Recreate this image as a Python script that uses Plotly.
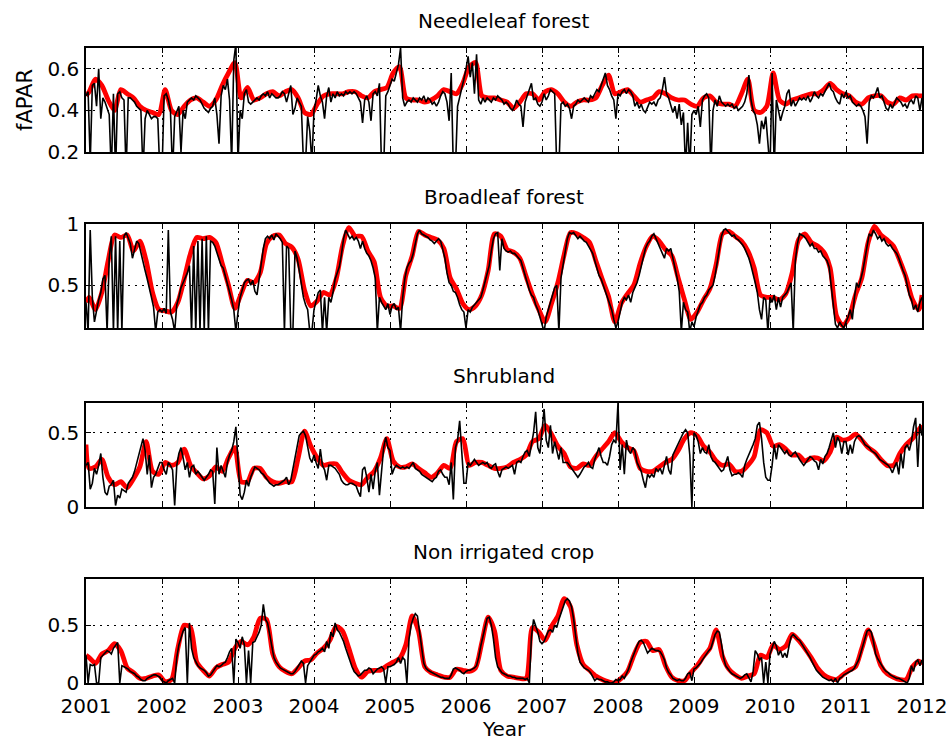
import plotly.graph_objects as go

# ---------------------------------------------------------------------------
# fAPAR time series 2001-2011 for four land-cover classes.
# *_OBS : dekadal observations (36 per year), *_FIT : smoothed monthly curve.
# ---------------------------------------------------------------------------
YEARS = list(range(2001, 2012))
YEAR_TICKS = list(range(2001, 2013))

PANEL_TITLES = ["Needleleaf forest", "Broadleaf forest", "Shrubland", "Non irrigated crop"]
Y_RANGES = [(0.2, 0.7), (0.15, 1.0), (0.0, 0.7), (0.0, 0.9)]
Y_TICKS = [[0.2, 0.4, 0.6], [0.5, 1.0], [0.0, 0.5], [0.0, 0.5]]
Y_TICK_TEXT = [["0.2", "0.4", "0.6"], ["0.5", "1"], ["0", "0.5"], ["0", "0.5"]]

# --- Needleleaf forest -------------------------------------------------------
NEEDLE_OBS = [
    [0.47, 0.49, 0.15, 0.52, 0.53, 0.42, 0.60, 0.36, 0.46, 0.44, 0.41, 0.38, 0.10, 0.48, 0.10, 0.48, 0.49, 0.46,
     0.45, 0.10, 0.46, 0.46, 0.45, 0.44, 0.42, 0.41, 0.40, 0.10, 0.36, 0.40, 0.38, 0.36, 0.37, 0.37, 0.36, 0.10],
    [0.10, 0.47, 0.48, 0.45, 0.40, 0.10, 0.37, 0.40, 0.42, 0.20, 0.40, 0.36, 0.44, 0.45, 0.46, 0.45, 0.47, 0.46,
     0.45, 0.43, 0.41, 0.40, 0.39, 0.41, 0.42, 0.46, 0.38, 0.24, 0.47, 0.52, 0.50, 0.55, 0.45, 0.15, 0.64, 0.72],
    [0.15, 0.40, 0.36, 0.48, 0.50, 0.44, 0.43, 0.44, 0.45, 0.46, 0.45, 0.47, 0.48, 0.47, 0.49, 0.46, 0.48, 0.47,
     0.46, 0.46, 0.47, 0.49, 0.48, 0.44, 0.48, 0.52, 0.38, 0.41, 0.46, 0.44, 0.42, 0.15, 0.15, 0.37, 0.30, 0.15],
    [0.40, 0.45, 0.52, 0.47, 0.44, 0.36, 0.47, 0.51, 0.44, 0.48, 0.46, 0.49, 0.47, 0.48, 0.47, 0.49, 0.48, 0.49,
     0.48, 0.49, 0.48, 0.46, 0.44, 0.34, 0.45, 0.47, 0.44, 0.35, 0.48, 0.49, 0.47, 0.53, 0.12, 0.12, 0.47, 0.49],
    [0.52, 0.55, 0.54, 0.58, 0.62, 0.70, 0.46, 0.42, 0.44, 0.45, 0.44, 0.46, 0.45, 0.44, 0.46, 0.45, 0.47, 0.44,
     0.46, 0.45, 0.43, 0.44, 0.42, 0.44, 0.47, 0.49, 0.48, 0.44, 0.35, 0.58, 0.12, 0.12, 0.42, 0.46, 0.50, 0.55],
    [0.60, 0.66, 0.56, 0.63, 0.48, 0.67, 0.45, 0.43, 0.46, 0.44, 0.46, 0.45, 0.44, 0.46, 0.45, 0.47, 0.46, 0.45,
     0.43, 0.44, 0.43, 0.41, 0.40, 0.42, 0.45, 0.43, 0.42, 0.32, 0.44, 0.47, 0.49, 0.53, 0.45, 0.46, 0.43, 0.42],
    [0.44, 0.48, 0.45, 0.47, 0.50, 0.49, 0.48, 0.12, 0.12, 0.43, 0.44, 0.42, 0.43, 0.41, 0.36, 0.42, 0.43, 0.45,
     0.44, 0.45, 0.46, 0.45, 0.44, 0.47, 0.46, 0.48, 0.50, 0.49, 0.52, 0.54, 0.58, 0.52, 0.50, 0.47, 0.45, 0.36],
    [0.48, 0.47, 0.49, 0.50, 0.48, 0.50, 0.49, 0.47, 0.42, 0.44, 0.41, 0.43, 0.40, 0.39, 0.42, 0.44, 0.43, 0.44,
     0.42, 0.45, 0.46, 0.50, 0.56, 0.48, 0.46, 0.42, 0.39, 0.42, 0.36, 0.43, 0.33, 0.39, 0.12, 0.34, 0.12, 0.38],
    [0.40, 0.38, 0.42, 0.32, 0.45, 0.47, 0.48, 0.46, 0.12, 0.40, 0.45, 0.42, 0.47, 0.44, 0.43, 0.42, 0.43, 0.42,
     0.43, 0.41, 0.42, 0.40, 0.41, 0.42, 0.44, 0.48, 0.57, 0.45, 0.40, 0.38, 0.33, 0.24, 0.35, 0.31, 0.37, 0.22],
    [0.12, 0.58, 0.12, 0.45, 0.40, 0.35, 0.39, 0.42, 0.48, 0.50, 0.42, 0.45, 0.42, 0.44, 0.46, 0.45, 0.46, 0.45,
     0.47, 0.44, 0.46, 0.49, 0.47, 0.46, 0.48, 0.47, 0.49, 0.51, 0.53, 0.50, 0.49, 0.46, 0.44, 0.43, 0.48, 0.46],
    [0.49, 0.46, 0.47, 0.44, 0.43, 0.42, 0.43, 0.42, 0.40, 0.37, 0.24, 0.44, 0.47, 0.46, 0.48, 0.51, 0.46, 0.47,
     0.44, 0.41, 0.40, 0.43, 0.41, 0.44, 0.46, 0.45, 0.44, 0.42, 0.43, 0.41, 0.44, 0.45, 0.43, 0.47, 0.46, 0.40],
]
NEEDLE_OBS_END = 0.46
NEEDLE_FIT = [
    [0.49, 0.55, 0.52, 0.45, 0.40, 0.50, 0.48, 0.46, 0.42, 0.40, 0.39, 0.38],
    [0.50, 0.40, 0.38, 0.42, 0.45, 0.46, 0.44, 0.42, 0.45, 0.52, 0.58, 0.63],
    [0.46, 0.51, 0.45, 0.46, 0.48, 0.49, 0.47, 0.49, 0.50, 0.46, 0.39, 0.38],
    [0.43, 0.47, 0.48, 0.48, 0.48, 0.49, 0.49, 0.47, 0.46, 0.49, 0.50, 0.51],
    [0.58, 0.61, 0.46, 0.45, 0.45, 0.44, 0.45, 0.47, 0.50, 0.49, 0.48, 0.53],
    [0.61, 0.63, 0.47, 0.46, 0.46, 0.45, 0.44, 0.41, 0.44, 0.48, 0.48, 0.45],
    [0.49, 0.50, 0.48, 0.44, 0.42, 0.44, 0.45, 0.45, 0.46, 0.52, 0.57, 0.48],
    [0.49, 0.50, 0.47, 0.44, 0.45, 0.46, 0.49, 0.48, 0.46, 0.45, 0.45, 0.43],
    [0.42, 0.46, 0.47, 0.44, 0.43, 0.43, 0.42, 0.48, 0.55, 0.40, 0.39, 0.42],
    [0.58, 0.45, 0.43, 0.45, 0.46, 0.47, 0.48, 0.48, 0.50, 0.53, 0.50, 0.48],
    [0.47, 0.44, 0.43, 0.46, 0.47, 0.47, 0.44, 0.43, 0.46, 0.45, 0.47, 0.47],
]
NEEDLE_FIT_START, NEEDLE_FIT_END = 0.47, 0.47

# --- Broadleaf forest --------------------------------------------------------
BROAD_OBS = [
    [0.36, 0.12, 0.95, 0.40, 0.20, 0.30, 0.38, 0.44, 0.55, 0.58, 0.12, 0.72, 0.90, 0.12, 0.90, 0.12, 0.86, 0.12,
     0.90, 0.93, 0.88, 0.84, 0.72, 0.80, 0.86, 0.84, 0.76, 0.70, 0.62, 0.55, 0.46, 0.40, 0.32, 0.12, 0.28, 0.30],
    [0.28, 0.31, 0.27, 0.95, 0.28, 0.22, 0.12, 0.34, 0.40, 0.48, 0.52, 0.56, 0.60, 0.66, 0.12, 0.82, 0.12, 0.86,
     0.12, 0.88, 0.12, 0.90, 0.12, 0.86, 0.85, 0.82, 0.76, 0.72, 0.66, 0.64, 0.58, 0.52, 0.45, 0.38, 0.30, 0.12],
    [0.28, 0.40, 0.46, 0.52, 0.54, 0.55, 0.50, 0.54, 0.45, 0.42, 0.55, 0.68, 0.80, 0.88, 0.90, 0.88, 0.91, 0.87,
     0.92, 0.90, 0.88, 0.85, 0.12, 0.82, 0.80, 0.12, 0.12, 0.78, 0.72, 0.62, 0.50, 0.40, 0.34, 0.30, 0.12, 0.12],
    [0.30, 0.36, 0.44, 0.46, 0.12, 0.40, 0.12, 0.40, 0.36, 0.44, 0.55, 0.60, 0.65, 0.75, 0.88, 0.95, 0.92, 0.88,
     0.90, 0.87, 0.89, 0.86, 0.80, 0.86, 0.80, 0.76, 0.74, 0.70, 0.64, 0.56, 0.12, 0.40, 0.36, 0.33, 0.30, 0.35],
    [0.26, 0.33, 0.35, 0.30, 0.32, 0.12, 0.40, 0.55, 0.64, 0.68, 0.70, 0.76, 0.85, 0.92, 0.95, 0.92, 0.91, 0.90,
     0.89, 0.87, 0.86, 0.84, 0.86, 0.88, 0.86, 0.80, 0.72, 0.60, 0.52, 0.50, 0.45, 0.44, 0.40, 0.34, 0.30, 0.28],
    [0.15, 0.30, 0.28, 0.32, 0.34, 0.36, 0.38, 0.40, 0.46, 0.52, 0.58, 0.66, 0.78, 0.88, 0.92, 0.93, 0.62, 0.88,
     0.80, 0.78, 0.77, 0.78, 0.76, 0.76, 0.74, 0.72, 0.70, 0.64, 0.58, 0.50, 0.46, 0.42, 0.40, 0.34, 0.30, 0.24],
    [0.18, 0.12, 0.24, 0.30, 0.36, 0.42, 0.48, 0.50, 0.12, 0.56, 0.68, 0.80, 0.88, 0.93, 0.92, 0.93, 0.90, 0.88,
     0.90, 0.88, 0.86, 0.85, 0.82, 0.80, 0.76, 0.70, 0.64, 0.58, 0.55, 0.50, 0.46, 0.40, 0.36, 0.30, 0.22, 0.15],
    [0.20, 0.28, 0.36, 0.40, 0.38, 0.42, 0.36, 0.44, 0.48, 0.52, 0.58, 0.66, 0.74, 0.80, 0.84, 0.86, 0.90, 0.92,
     0.88, 0.84, 0.80, 0.76, 0.72, 0.80, 0.78, 0.80, 0.72, 0.62, 0.56, 0.45, 0.12, 0.36, 0.30, 0.28, 0.12, 0.20],
    [0.16, 0.24, 0.30, 0.34, 0.36, 0.40, 0.42, 0.46, 0.48, 0.50, 0.58, 0.68, 0.80, 0.90, 0.95, 0.96, 0.94, 0.92,
     0.90, 0.91, 0.88, 0.87, 0.85, 0.83, 0.80, 0.76, 0.72, 0.66, 0.60, 0.52, 0.44, 0.30, 0.22, 0.40, 0.38, 0.12],
    [0.40, 0.36, 0.42, 0.30, 0.40, 0.32, 0.40, 0.42, 0.44, 0.48, 0.52, 0.12, 0.70, 0.84, 0.92, 0.91, 0.90, 0.88,
     0.85, 0.82, 0.84, 0.80, 0.80, 0.77, 0.78, 0.74, 0.72, 0.70, 0.65, 0.50, 0.30, 0.18, 0.15, 0.20, 0.17, 0.15],
    [0.20, 0.24, 0.30, 0.22, 0.40, 0.52, 0.48, 0.55, 0.62, 0.72, 0.84, 0.92, 0.90, 0.95, 0.92, 0.88, 0.90, 0.86,
     0.88, 0.84, 0.82, 0.83, 0.80, 0.78, 0.76, 0.72, 0.66, 0.62, 0.58, 0.50, 0.42, 0.38, 0.30, 0.34, 0.28, 0.36],
]
BROAD_OBS_END = 0.40
BROAD_FIT = [
    [0.40, 0.30, 0.44, 0.70, 0.91, 0.89, 0.91, 0.78, 0.86, 0.70, 0.44, 0.30],
    [0.29, 0.28, 0.36, 0.55, 0.76, 0.89, 0.88, 0.89, 0.85, 0.68, 0.50, 0.31],
    [0.43, 0.54, 0.52, 0.60, 0.84, 0.90, 0.91, 0.84, 0.81, 0.71, 0.46, 0.33],
    [0.37, 0.44, 0.42, 0.55, 0.82, 0.97, 0.90, 0.90, 0.78, 0.69, 0.40, 0.33],
    [0.33, 0.31, 0.58, 0.74, 0.94, 0.91, 0.89, 0.87, 0.80, 0.56, 0.47, 0.35],
    [0.30, 0.33, 0.42, 0.62, 0.92, 0.90, 0.79, 0.77, 0.72, 0.57, 0.42, 0.30],
    [0.20, 0.35, 0.52, 0.75, 0.93, 0.92, 0.89, 0.85, 0.70, 0.55, 0.41, 0.20],
    [0.35, 0.43, 0.50, 0.68, 0.82, 0.90, 0.86, 0.79, 0.74, 0.56, 0.38, 0.22],
    [0.28, 0.38, 0.47, 0.67, 0.92, 0.94, 0.90, 0.86, 0.78, 0.64, 0.42, 0.40],
    [0.40, 0.38, 0.43, 0.60, 0.87, 0.92, 0.85, 0.82, 0.77, 0.64, 0.25, 0.17],
    [0.24, 0.42, 0.56, 0.85, 0.98, 0.91, 0.87, 0.82, 0.70, 0.56, 0.38, 0.30],
]
BROAD_FIT_START, BROAD_FIT_END = 0.36, 0.42

# --- Shrubland ---------------------------------------------------------------
SHRUB_OBS = [
    [0.28, 0.30, 0.12, 0.16, 0.26, 0.22, 0.28, 0.36, 0.20, 0.10, 0.08, 0.14, 0.15, 0.18, 0.01, 0.08, 0.06, 0.12,
     0.11, 0.10, 0.16, 0.18, 0.20, 0.24, 0.30, 0.36, 0.40, 0.46, 0.38, 0.22, 0.35, 0.13, 0.20, 0.22, 0.26, 0.30],
    [0.30, 0.25, 0.22, 0.30, 0.28, 0.25, 0.01, 0.28, 0.36, 0.40, 0.33, 0.25, 0.30, 0.20, 0.27, 0.28, 0.22, 0.24,
     0.22, 0.20, 0.18, 0.20, 0.22, 0.25, 0.24, 0.02, 0.40, 0.22, 0.28, 0.24, 0.20, 0.30, 0.35, 0.38, 0.44, 0.54],
    [0.30, 0.08, 0.05, 0.10, 0.18, 0.14, 0.20, 0.24, 0.27, 0.26, 0.25, 0.23, 0.22, 0.20, 0.18, 0.16, 0.15, 0.14,
     0.15, 0.15, 0.16, 0.17, 0.18, 0.20, 0.15, 0.18, 0.25, 0.32, 0.40, 0.48, 0.50, 0.51, 0.48, 0.40, 0.33, 0.30],
    [0.35, 0.30, 0.26, 0.39, 0.28, 0.25, 0.18, 0.28, 0.28, 0.27, 0.26, 0.24, 0.22, 0.18, 0.16, 0.15, 0.15, 0.16,
     0.16, 0.15, 0.14, 0.10, 0.07, 0.25, 0.27, 0.20, 0.10, 0.22, 0.12, 0.24, 0.30, 0.08, 0.22, 0.40, 0.47, 0.40],
    [0.38, 0.22, 0.26, 0.28, 0.27, 0.26, 0.27, 0.26, 0.27, 0.26, 0.28, 0.30, 0.26, 0.25, 0.24, 0.22, 0.21, 0.20,
     0.19, 0.18, 0.17, 0.19, 0.20, 0.24, 0.25, 0.22, 0.20, 0.20, 0.15, 0.30, 0.05, 0.40, 0.45, 0.58, 0.40, 0.16],
    [0.16, 0.30, 0.28, 0.30, 0.32, 0.30, 0.28, 0.29, 0.30, 0.29, 0.30, 0.27, 0.26, 0.28, 0.29, 0.24, 0.20, 0.25,
     0.26, 0.27, 0.26, 0.27, 0.28, 0.22, 0.30, 0.31, 0.30, 0.34, 0.37, 0.38, 0.34, 0.42, 0.50, 0.64, 0.40, 0.36],
    [0.52, 0.66, 0.45, 0.40, 0.55, 0.36, 0.44, 0.38, 0.32, 0.40, 0.30, 0.30, 0.30, 0.28, 0.26, 0.24, 0.22, 0.20,
     0.22, 0.25, 0.27, 0.28, 0.30, 0.27, 0.26, 0.32, 0.36, 0.40, 0.34, 0.30, 0.30, 0.28, 0.34, 0.42, 0.45, 0.43],
    [0.70, 0.25, 0.42, 0.22, 0.45, 0.38, 0.36, 0.40, 0.38, 0.30, 0.27, 0.24, 0.18, 0.13, 0.22, 0.20, 0.22, 0.20,
     0.26, 0.24, 0.26, 0.22, 0.28, 0.34, 0.25, 0.22, 0.35, 0.38, 0.42, 0.45, 0.48, 0.50, 0.52, 0.50, 0.35, 0.00],
    [0.50, 0.48, 0.44, 0.36, 0.40, 0.37, 0.36, 0.42, 0.34, 0.31, 0.30, 0.28, 0.26, 0.24, 0.25, 0.30, 0.34, 0.25,
     0.21, 0.22, 0.22, 0.23, 0.22, 0.20, 0.28, 0.32, 0.35, 0.38, 0.42, 0.46, 0.55, 0.57, 0.46, 0.30, 0.20, 0.18],
    [0.18, 0.28, 0.42, 0.32, 0.42, 0.40, 0.38, 0.36, 0.38, 0.35, 0.34, 0.36, 0.37, 0.34, 0.32, 0.30, 0.28, 0.30,
     0.32, 0.34, 0.33, 0.31, 0.30, 0.25, 0.32, 0.29, 0.34, 0.36, 0.40, 0.46, 0.50, 0.40, 0.47, 0.44, 0.36, 0.44],
    [0.44, 0.35, 0.42, 0.36, 0.44, 0.47, 0.48, 0.47, 0.44, 0.42, 0.41, 0.40, 0.38, 0.37, 0.36, 0.34, 0.32, 0.31,
     0.30, 0.29, 0.28, 0.26, 0.23, 0.27, 0.30, 0.22, 0.36, 0.26, 0.40, 0.42, 0.38, 0.44, 0.54, 0.60, 0.27, 0.56],
]
SHRUB_OBS_END = 0.48
SHRUB_FIT = [
    [0.26, 0.27, 0.32, 0.20, 0.15, 0.17, 0.13, 0.19, 0.27, 0.44, 0.24, 0.22],
    [0.30, 0.28, 0.30, 0.39, 0.28, 0.23, 0.19, 0.21, 0.27, 0.24, 0.33, 0.40],
    [0.17, 0.17, 0.26, 0.26, 0.20, 0.17, 0.16, 0.17, 0.17, 0.33, 0.51, 0.41],
    [0.33, 0.28, 0.29, 0.29, 0.23, 0.18, 0.16, 0.15, 0.20, 0.24, 0.33, 0.46],
    [0.31, 0.27, 0.27, 0.29, 0.26, 0.23, 0.20, 0.23, 0.28, 0.26, 0.44, 0.46],
    [0.28, 0.30, 0.30, 0.28, 0.26, 0.26, 0.27, 0.30, 0.32, 0.35, 0.44, 0.46],
    [0.55, 0.49, 0.41, 0.36, 0.27, 0.26, 0.29, 0.28, 0.34, 0.39, 0.44, 0.50],
    [0.44, 0.40, 0.38, 0.26, 0.24, 0.24, 0.27, 0.30, 0.32, 0.38, 0.46, 0.50],
    [0.48, 0.41, 0.37, 0.31, 0.28, 0.29, 0.24, 0.24, 0.28, 0.34, 0.52, 0.50],
    [0.41, 0.42, 0.39, 0.35, 0.35, 0.31, 0.33, 0.33, 0.31, 0.37, 0.47, 0.45],
    [0.46, 0.49, 0.45, 0.40, 0.37, 0.32, 0.28, 0.28, 0.36, 0.42, 0.46, 0.52],
]
SHRUB_FIT_START, SHRUB_FIT_END = 0.42, 0.55

# --- Non irrigated crop ------------------------------------------------------
CROP_OBS = [
    [0.24, 0.00, 0.16, 0.15, 0.16, 0.00, 0.00, 0.22, 0.24, 0.26, 0.28, 0.27, 0.25, 0.30, 0.33, 0.35, 0.00, 0.15,
     0.14, 0.13, 0.12, 0.10, 0.09, 0.08, 0.06, 0.05, 0.03, 0.02, 0.02, 0.04, 0.05, 0.06, 0.07, 0.07, 0.06, 0.05],
    [0.02, 0.01, 0.00, 0.02, 0.03, 0.04, 0.00, 0.22, 0.33, 0.40, 0.45, 0.48, 0.00, 0.52, 0.30, 0.22, 0.18, 0.15,
     0.13, 0.12, 0.11, 0.09, 0.06, 0.07, 0.10, 0.13, 0.15, 0.14, 0.15, 0.17, 0.18, 0.22, 0.27, 0.30, 0.00, 0.38],
    [0.35, 0.30, 0.40, 0.33, 0.00, 0.28, 0.00, 0.35, 0.36, 0.40, 0.44, 0.50, 0.68, 0.55, 0.52, 0.42, 0.30, 0.22,
     0.18, 0.15, 0.13, 0.12, 0.11, 0.10, 0.09, 0.08, 0.08, 0.10, 0.13, 0.16, 0.19, 0.17, 0.00, 0.15, 0.18, 0.22],
    [0.24, 0.25, 0.27, 0.28, 0.30, 0.27, 0.36, 0.30, 0.44, 0.40, 0.52, 0.46, 0.44, 0.40, 0.36, 0.30, 0.24, 0.18,
     0.14, 0.10, 0.08, 0.06, 0.07, 0.09, 0.11, 0.11, 0.13, 0.12, 0.08, 0.10, 0.12, 0.13, 0.14, 0.12, 0.00, 0.14],
    [0.14, 0.15, 0.16, 0.18, 0.22, 0.17, 0.22, 0.20, 0.00, 0.38, 0.50, 0.56, 0.60, 0.58, 0.45, 0.28, 0.17, 0.13,
     0.11, 0.10, 0.09, 0.08, 0.07, 0.06, 0.05, 0.05, 0.04, 0.04, 0.04, 0.07, 0.12, 0.13, 0.12, 0.11, 0.09, 0.08],
    [0.10, 0.11, 0.11, 0.12, 0.13, 0.15, 0.22, 0.32, 0.40, 0.48, 0.56, 0.57, 0.50, 0.38, 0.22, 0.14, 0.11, 0.09,
     0.08, 0.07, 0.06, 0.06, 0.05, 0.05, 0.04, 0.04, 0.04, 0.04, 0.03, 0.04, 0.00, 0.40, 0.55, 0.50, 0.44, 0.36],
    [0.34, 0.36, 0.40, 0.45, 0.46, 0.44, 0.50, 0.48, 0.55, 0.60, 0.66, 0.71, 0.73, 0.71, 0.66, 0.55, 0.40, 0.26,
     0.18, 0.15, 0.13, 0.12, 0.11, 0.09, 0.06, 0.02, 0.04, 0.03, 0.03, 0.02, 0.01, 0.01, 0.00, 0.00, 0.01, 0.03],
    [0.02, 0.03, 0.06, 0.04, 0.08, 0.12, 0.18, 0.23, 0.28, 0.32, 0.36, 0.37, 0.35, 0.30, 0.26, 0.28, 0.30, 0.29,
     0.28, 0.28, 0.27, 0.24, 0.20, 0.13, 0.09, 0.07, 0.04, 0.03, 0.02, 0.03, 0.02, 0.02, 0.04, 0.08, 0.09, 0.02],
    [0.12, 0.13, 0.15, 0.17, 0.20, 0.23, 0.26, 0.28, 0.30, 0.36, 0.42, 0.45, 0.44, 0.34, 0.22, 0.15, 0.12, 0.10,
     0.08, 0.07, 0.06, 0.05, 0.04, 0.05, 0.07, 0.08, 0.05, 0.01, 0.10, 0.28, 0.25, 0.20, 0.22, 0.00, 0.18, 0.00],
    [0.25, 0.30, 0.36, 0.32, 0.24, 0.28, 0.22, 0.26, 0.22, 0.32, 0.40, 0.42, 0.40, 0.38, 0.37, 0.34, 0.31, 0.29,
     0.26, 0.22, 0.18, 0.14, 0.11, 0.09, 0.07, 0.05, 0.04, 0.03, 0.02, 0.03, 0.01, 0.04, 0.00, 0.04, 0.05, 0.07],
    [0.08, 0.09, 0.10, 0.11, 0.13, 0.16, 0.20, 0.26, 0.33, 0.40, 0.45, 0.46, 0.44, 0.36, 0.25, 0.21, 0.18, 0.14,
     0.12, 0.10, 0.09, 0.07, 0.06, 0.05, 0.04, 0.04, 0.03, 0.02, 0.01, 0.00, 0.04, 0.15, 0.10, 0.18, 0.20, 0.15],
]
CROP_OBS_END = 0.20
CROP_FIT = [
    [0.22, 0.17, 0.25, 0.28, 0.34, 0.28, 0.13, 0.09, 0.04, 0.04, 0.06, 0.07],
    [0.01, 0.03, 0.30, 0.50, 0.48, 0.18, 0.11, 0.06, 0.13, 0.16, 0.18, 0.30],
    [0.36, 0.33, 0.40, 0.56, 0.55, 0.25, 0.14, 0.10, 0.08, 0.13, 0.19, 0.20],
    [0.26, 0.30, 0.37, 0.49, 0.45, 0.30, 0.13, 0.05, 0.10, 0.11, 0.11, 0.15],
    [0.18, 0.21, 0.33, 0.58, 0.45, 0.14, 0.09, 0.07, 0.05, 0.05, 0.12, 0.11],
    [0.10, 0.13, 0.35, 0.57, 0.45, 0.11, 0.06, 0.05, 0.04, 0.04, 0.48, 0.44],
    [0.37, 0.49, 0.58, 0.73, 0.66, 0.33, 0.16, 0.11, 0.06, 0.03, 0.01, 0.00],
    [0.04, 0.10, 0.24, 0.35, 0.36, 0.28, 0.29, 0.15, 0.05, 0.02, 0.02, 0.09],
    [0.15, 0.23, 0.30, 0.46, 0.23, 0.12, 0.07, 0.04, 0.06, 0.08, 0.24, 0.22],
    [0.33, 0.29, 0.32, 0.42, 0.37, 0.30, 0.22, 0.13, 0.07, 0.04, 0.03, 0.07],
    [0.11, 0.14, 0.30, 0.46, 0.32, 0.15, 0.08, 0.05, 0.03, 0.03, 0.14, 0.19],
]
CROP_FIT_START, CROP_FIT_END = 0.24, 0.16


def obs_series(rows, end_value):
    """Dekadal samples: the i-th of n values in a year sits at year + i/n."""
    t, v = [], []
    for year, row in zip(YEARS, rows):
        n = len(row)
        t += [year + i / n for i in range(n)]
        v += row
    t.append(YEARS[-1] + 1)
    v.append(end_value)
    return t, v


def fit_series(rows, start_value, end_value):
    """Monthly values centred in each month, plus the two end points."""
    t, v = [YEARS[0]], [start_value]
    for year, row in zip(YEARS, rows):
        n = len(row)
        t += [year + (i + 0.5) / n for i in range(n)]
        v += row
    t.append(YEARS[-1] + 1)
    v.append(end_value)
    return t, v


PANELS = [
    (NEEDLE_OBS, NEEDLE_OBS_END, NEEDLE_FIT, NEEDLE_FIT_START, NEEDLE_FIT_END),
    (BROAD_OBS, BROAD_OBS_END, BROAD_FIT, BROAD_FIT_START, BROAD_FIT_END),
    (SHRUB_OBS, SHRUB_OBS_END, SHRUB_FIT, SHRUB_FIT_START, SHRUB_FIT_END),
    (CROP_OBS, CROP_OBS_END, CROP_FIT, CROP_FIT_START, CROP_FIT_END),
]

# ---------------------------------------------------------------------------
W, H = 949, 742
X_LEFT, X_RIGHT = 86, 922          # plot-area edges in pixels
PANEL_TOPS = [48, 224, 403, 579]
PANEL_H = 104
FONT = "DejaVu Sans"

fig = go.Figure()
layout = dict(
    width=W, height=H,
    margin=dict(l=0, r=0, t=0, b=0, autoexpand=False),
    paper_bgcolor="white", plot_bgcolor="white",
    showlegend=False,
    font=dict(family=FONT, size=20, color="black"),
)

axis_common = dict(
    ticks="inside", ticklen=5, tickwidth=1.2, tickcolor="black",
    showline=True, linecolor="black", linewidth=1.6, mirror="allticks",
    showgrid=True, gridcolor="black", gridwidth=1, griddash="2px,5px",
    zeroline=False, tickfont=dict(family=FONT, size=20, color="black"),
)

annotations = []
for k, (obs, obs_end, fit, fit_start, fit_end) in enumerate(PANELS):
    idx = "" if k == 0 else str(k + 1)
    xa, ya = "x" + idx, "y" + idx

    tf, vf = fit_series(fit, fit_start, fit_end)
    to, vo = obs_series(obs, obs_end)
    fig.add_trace(go.Scatter(x=tf, y=vf, mode="lines", xaxis=xa, yaxis=ya,
                             line=dict(color="#ff0000", width=4.8,
                                       shape="spline", smoothing=0.7)))
    fig.add_trace(go.Scatter(x=to, y=vo, mode="lines", xaxis=xa, yaxis=ya,
                             line=dict(color="black", width=1.6)))

    top = PANEL_TOPS[k]
    y_dom = [1 - (top + PANEL_H) / H, 1 - top / H]
    layout["xaxis" + idx] = dict(
        axis_common, domain=[X_LEFT / W, X_RIGHT / W], anchor=ya,
        range=[YEAR_TICKS[0], YEAR_TICKS[-1]], tickvals=YEAR_TICKS,
        ticktext=[str(y) for y in YEAR_TICKS], showticklabels=(k == 3),
        ticklabelstandoff=4,
    )
    layout["yaxis" + idx] = dict(
        axis_common, domain=y_dom, anchor=xa,
        range=list(Y_RANGES[k]), tickvals=Y_TICKS[k], ticktext=Y_TICK_TEXT[k],
        ticklabelstandoff=1,
    )
    annotations.append(dict(
        text=PANEL_TITLES[k], xref="paper", yref="paper",
        x=(X_LEFT + X_RIGHT) / 2 / W, y=1 - (top - 27) / H,
        xanchor="center", yanchor="middle", showarrow=False,
        font=dict(family=FONT, size=20, color="black"),
    ))

annotations.append(dict(text="fAPAR", xref="paper", yref="paper",
                        x=25 / W, y=1 - 100 / H, textangle=-90,
                        xanchor="center", yanchor="middle", showarrow=False,
                        font=dict(family=FONT, size=21, color="black")))
annotations.append(dict(text="Year", xref="paper", yref="paper",
                        x=(X_LEFT + X_RIGHT) / 2 / W, y=0,
                        xanchor="center", yanchor="bottom", showarrow=False,
                        borderpad=0,
                        font=dict(family=FONT, size=20, color="black")))
layout["annotations"] = annotations

fig.update_layout(**layout)
fig.write_html("out.html")
